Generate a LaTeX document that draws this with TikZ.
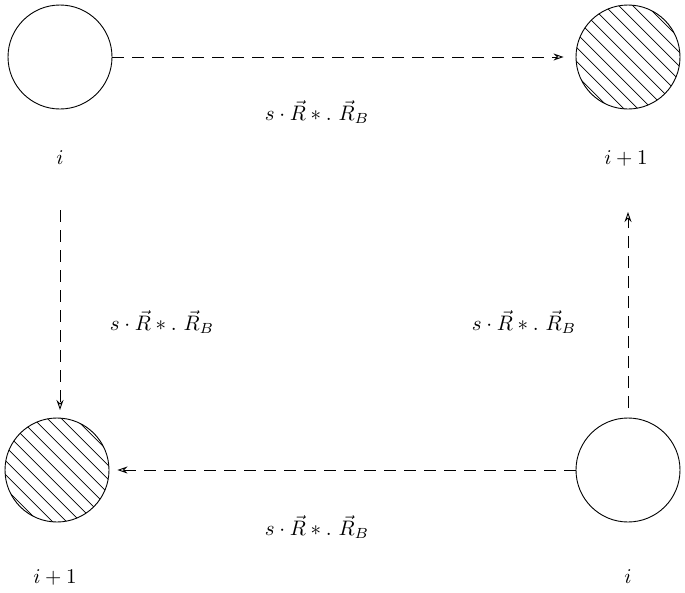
\documentclass[tikz,border=0pt]{standalone}
\usetikzlibrary{arrows.meta}
\begin{document}
\begin{tikzpicture}[x=1pt,y=-1pt,
  circ/.style={circle,draw,line width=0.9pt,minimum size=104pt,inner sep=0pt},
  lab/.style={scale=2.1,transform shape=false},
  conn/.style={dashed,dash pattern=on 12pt off 8pt,line width=0.9pt,-{Stealth[length=10pt,width=7pt,open]}}]
\useasboundingbox (0,0) rectangle (685,592);
\node[circ] (a) at (60,57) {};
\node[circ] (b) at (628,57) {};
\node[circ] (c) at (57,470) {};
\node[circ] (d) at (628,470) {};
\foreach \n in {b,c}{
  \begin{scope}
    \clip (\n) circle (52pt);
    \foreach \k in {-140,-126,...,140}
      \draw[line width=0.7pt] ([shift={(\k-80,-80)}]\n.center) -- ++(160,160);
  \end{scope}
}
\node[lab] (la) at (60,158) {$i$};
\node[lab] (lb) at (626,158) {$i+1$};
\node[lab] (lc) at (55,577) {$i+1$};
\node[lab] (ld) at (628,577) {$i$};
\coordinate (a1) at (60,210);
\coordinate (c1) at (60,410);
\coordinate (d1) at (628,408);
\coordinate (b1) at (628,212);
\draw[conn] (a.east) -- ([xshift=-12pt]b.west);
\draw[conn] (a1) -- (c1);
\draw[conn] (d1) -- (b1);
\draw[conn] (d.west) -- ([xshift=8pt]c.east);
\node[lab] (e1) at (317,112) {$s\cdot\vec R\ast.\ \vec R_B$};
\node[lab] (e2) at (162,322) {$s\cdot\vec R\ast.\ \vec R_B$};
\node[lab] (e3) at (524,322) {$s\cdot\vec R\ast.\ \vec R_B$};
\node[lab] (e4) at (317,527) {$s\cdot\vec R\ast.\ \vec R_B$};
\end{tikzpicture}
\end{document}
